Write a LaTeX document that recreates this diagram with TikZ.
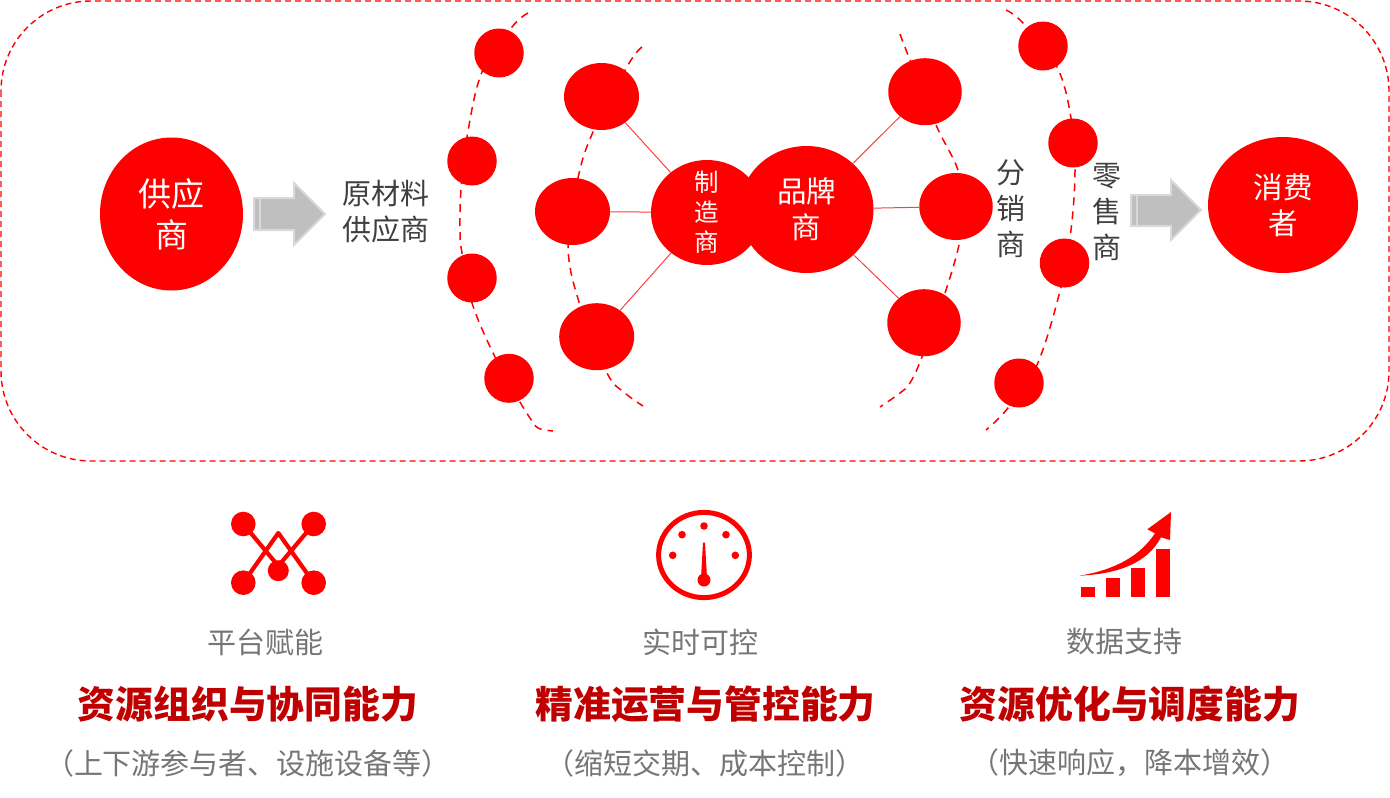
\documentclass[tikz,border=0pt]{standalone}
\usepackage{fontspec}
\setmainfont{Noto Sans CJK SC}
\usetikzlibrary{shapes.geometric}
\definecolor{hub}{HTML}{FF0000}
\definecolor{deep}{HTML}{C00000}
\definecolor{muted}{HTML}{767676}
\definecolor{ink}{HTML}{404040}
\definecolor{arrowfill}{HTML}{BFBFBF}
\definecolor{arrowedge}{HTML}{D9D9D9}
\tikzset{
  blob/.style n args={2}{ellipse,fill=hub,inner sep=-40pt,minimum width=#1pt,minimum height=#2pt,text=white,align=center},
  smallblob/.style={blob={49.5}{49}},
  midblob/.style={blob={75}{67}},
  rightblob/.style={blob={73.5}{67}},
  rim/.style={draw=hub,line width=1.5pt,dash pattern=on 8pt off 6pt},
  frameline/.style={draw=hub,line width=1.4pt,dash pattern=on 6pt off 4pt},
  linkline/.style={draw=hub!75,line width=1pt},
  lab/.style={inner sep=0pt,align=center,text=ink,font=\fontsize{29}{36}\selectfont},
  captext/.style={inner sep=0pt,text=muted,font=\fontsize{29}{36}\selectfont},
  headtext/.style={inner sep=0pt,text=deep,font=\fontsize{37.8}{44}\selectfont\bfseries},
  iconline/.style={draw=hub,line width=4.2pt,line join=round},
  grayarrow/.style={fill=arrowfill,draw=arrowedge,line width=2pt,line join=miter},
}
\begin{document}
\begin{tikzpicture}[x=1pt,y=-1pt]
\useasboundingbox (0,0) rectangle (1390,798);
\draw[frameline,rounded corners=90pt] (1,1) rectangle (1389,461);
% dashed rims
\draw[rim] plot[smooth,tension=0.6] coordinates {(528,13) (512,27) (482,72) (467,137) (461,190) (460,232) (462,253) (472,303) (495,357) (520,402) (530,418) (538,428) (553,431)};
\draw[rim] plot[smooth,tension=0.6] coordinates {(642,47) (628,65) (593,132) (578,178) (568,245) (579,302) (607,373) (625,393) (643,406)};
\draw[rim] plot[smooth,tension=0.6] coordinates {(900,34) (908,55) (936,125) (958,170) (964,210) (959,245) (945,293) (922,357) (910,383) (900,393) (880,407)};
\draw[rim] plot[smooth,tension=0.6] coordinates {(1006,10) (1023,23) (1057,67) (1071,118) (1075,170) (1071,230) (1061,287) (1037,365) (1008,408) (986,430)};
% nodes
\node[blob={143}{153},font=\fontsize{33}{41}\selectfont] (sup) at (171.5,214) {供应\\商};
\node[blob={150}{136},font=\fontsize{29.5}{36}\selectfont] (con) at (1283,205) {消费\\者};
\node[smallblob] (lo1) at (499,53) {};
\node[smallblob] (lo2) at (472,161) {};
\node[smallblob] (lo3) at (472,278) {};
\node[smallblob] (lo4) at (509,378.3) {};
\node[midblob] (li1) at (601.5,96.5) {};
\node[midblob] (li2) at (572.5,211.5) {};
\node[midblob] (li3) at (596.7,336.7) {};
\node[rightblob] (ri1) at (925,91.7) {};
\node[rightblob] (ri2) at (956,206.5) {};
\node[rightblob] (ri3) at (924,322.7) {};
\node[smallblob] (ro1) at (1043,46) {};
\node[smallblob] (ro2) at (1073,143) {};
\node[smallblob] (ro3) at (1064.5,263) {};
\node[smallblob] (ro4) at (1019,383) {};
\node[blob={112}{105},font=\fontsize{24.5}{30}\selectfont] (mfr) at (707,212.5) {制\\造\\商};
\node[blob={134}{127},font=\fontsize{29.5}{36}\selectfont,xshift=-0.5pt] (brand) at (807,209.5) {品牌\\商};
% links
\draw[linkline] (mfr) -- (li1);
\draw[linkline] (mfr) -- (li2);
\draw[linkline] (mfr) -- (li3);
\draw[linkline] (brand) -- (ri1);
\draw[linkline] (brand) -- (ri2);
\draw[linkline] (brand) -- (ri3);
% labels
\node[lab] (raw) at (385.5,212) {原材料\\供应商};
\node[lab] (dist) at (1010.5,209) {分\\销\\商};
\node[lab] (ret) at (1106.5,212) {零\\售\\商};
% gray arrows
\draw[grayarrow] (254,198) -- (294,198) -- (294,183) -- (325,214) -- (294,245) -- (294,230) -- (254,230) -- cycle;
\draw[arrowedge,line width=1.5pt] (260,198) -- (260,230);
\draw[grayarrow] (1131,195) -- (1171,195) -- (1171,180) -- (1201,210) -- (1171,240) -- (1171,226) -- (1131,226) -- cycle;
\draw[arrowedge,line width=1.5pt] (1137,195) -- (1137,226);
% icon 1
\fill[hub] (243.3,524) circle[radius=12.3] (313.7,524) circle[radius=12.3] (243.3,582.7) circle[radius=12.3] (313.7,582.7) circle[radius=12.3] (278.3,570.7) circle[radius=10.5];
\draw[iconline] (243.3,524) -- (278.3,566) -- (313.7,524);
\draw[iconline] (243.3,582.7) -- (278.3,533) -- (313.7,582.7);
% icon 2
\draw[hub,line width=5pt] (704,555) ellipse[x radius=45.4,y radius=42.6];
\fill[hub] (704,526) circle[radius=3.8] (682,534.7) circle[radius=3.8] (726,534.7) circle[radius=3.8] (672.7,555.3) circle[radius=3.8] (735.3,555.3) circle[radius=3.8];
\fill[hub] (703,542.5) -- (705,542.5) -- (707,578) -- (701,578) -- cycle;
\fill[hub] (704,580) circle[radius=6.5];
% icon 3
\fill[hub] (1081,587.3) rectangle (1095,597);
\fill[hub] (1106,578) rectangle (1120,597);
\fill[hub] (1131,568) rectangle (1145,597);
\fill[hub] (1156,549) rectangle (1170,597);
\fill[hub] (1171,512) -- (1147.3,529.3) -- (1155,533.3) .. controls (1140,556) and (1115,570) .. (1079,575.7) .. controls (1120,574) and (1148,562) .. (1161,537.3) -- (1170,540) -- cycle;
% captions
\node[captext] (c1) at (265,642) {平台赋能};
\node[captext] (c2) at (700,642) {实时可控};
\node[captext] (c3) at (1124,642) {数据支持};
\node[headtext] (h1) at (248,704) {资源组织与协同能力};
\node[headtext] (h2) at (705.5,704) {精准运营与管控能力};
\node[headtext] (h3) at (1130,704) {资源优化与调度能力};
\node[captext] (s1) at (248,763) {（上下游参与者、设施设备等）};
\node[captext] (s2) at (705,763) {（缩短交期、成本控制）};
\node[captext] (s3) at (1130,763) {（快速响应，降本增效）};
\end{tikzpicture}
\end{document}
